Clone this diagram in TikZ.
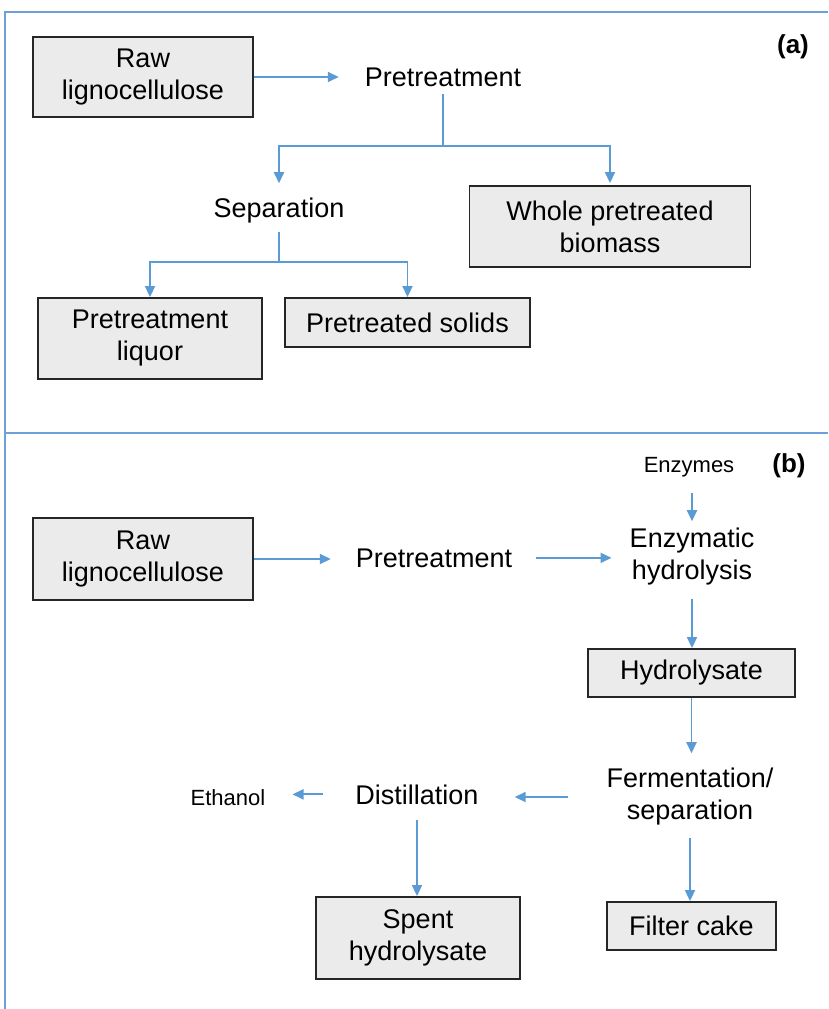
\documentclass[tikz,border=0pt]{standalone}
\usepackage{fontspec}
\setmainfont{Liberation Sans}
\usetikzlibrary{arrows.meta}
\definecolor{flowblue}{RGB}{91,155,213}
\definecolor{framblue}{RGB}{110,160,215}
\definecolor{boxfill}{RGB}{235,235,235}
\tikzset{
  x=1pt, y=-1pt,
  procbox/.style={draw=black!85, fill=boxfill, line width=1.9pt, inner sep=0pt,
    align=center, font=\fontsize{27}{32}\selectfont},
  plain/.style={inner sep=0pt, align=center, font=\fontsize{27}{32}\selectfont},
  small/.style={inner sep=0pt, font=\fontsize{22}{26}\selectfont},
  tag/.style={inner sep=0pt, font=\fontsize{26}{30}\selectfont\bfseries},
  flow/.style={draw=flowblue, line width=1.9pt, -{Triangle[length=11pt,width=10pt]}},
  frameline/.style={draw=framblue, line width=2pt}
}
\begin{document}
\begin{tikzpicture}
\useasboundingbox (0,0) rectangle (828,1009);
% frame
\coordinate (ftl) at (5,12);
\coordinate (ftr) at (828,12);
\coordinate (fbl) at (5,1009);
\coordinate (fdl) at (5,433);
\coordinate (fdr) at (828,433);
\draw[frameline] (fbl) -- (ftl) -- (ftr);
\draw[frameline] (fdl) -- (fdr);

% ---------- (a) ----------
\node[tag, anchor=base] (la) at (793,53) {(a)};
\node[procbox, minimum width=220pt, minimum height=80pt] (rawA) at (143,77) {Raw\\lignocellulose};
\node[plain, anchor=base] (ptA) at (443,86) {Pretreatment};
\node[plain, anchor=base] (sepA) at (279,217) {Separation};
\node[procbox, minimum width=281pt, minimum height=81pt] (wholeA) at (610,226.5) {Whole pretreated\\biomass};
\node[procbox, minimum width=224pt, minimum height=81pt] (liqA) at (150,338.5) {Pretreatment\\liquor};
\node[procbox, minimum width=245pt, minimum height=49pt] (solA) at (407.5,322.5) {Pretreated solids};

\coordinate (jA) at (443,146);
\coordinate (jS) at (279,262);

\draw[flow, shorten >=26pt] (rawA.east) -- (rawA.east -| ptA.west);
\draw[flow, shorten <=8pt, shorten >=14pt] (ptA.south) -- (jA) -| (sepA.north);
\draw[flow, shorten >=2pt] (jA) -| (wholeA.north);
\draw[flow, shorten <=9pt] (sepA.south) -- (jS) -| (liqA.north);
\draw[flow] (jS) -| (solA.north);

% ---------- (b) ----------
\node[tag, anchor=base] (lb) at (789,472) {(b)};
\node[small, anchor=base] (enzy) at (689,472) {Enzymes};
\node[procbox, minimum width=220pt, minimum height=82pt] (rawB) at (143,559) {Raw\\lignocellulose};
\node[plain, anchor=base] (ptB) at (434,567) {Pretreatment};
\node[plain] (ehB) at (692,557) {Enzymatic\\hydrolysis};
\node[procbox, minimum width=207pt, minimum height=48pt] (hydB) at (691.5,673) {Hydrolysate};
\node[plain] (ferB) at (690,797) {Fermentation/\\separation};
\node[plain, anchor=base] (disB) at (417,804) {Distillation};
\node[small, anchor=base] (ethB) at (228,805) {Ethanol};
\node[procbox, minimum width=204pt, minimum height=82pt] (spB) at (418,938) {Spent\\hydrolysate};
\node[procbox, minimum width=169pt, minimum height=48pt] (filB) at (691.5,926) {Filter cake};

\draw[flow, shorten <=16pt, shorten >=7pt] (enzy.south -| ehB.north) -- (ehB.north);
\draw[flow, shorten >=25pt] (rawB.east) -- (rawB.east -| ptB.west);
\draw[flow, shorten <=24pt, shorten >=18pt] (ptB.east) -- (ptB.east -| ehB.west);
\draw[flow, shorten <=13pt] (ehB.south) -- (ehB.south |- hydB.north);
\draw[flow, shorten >=15pt] (hydB.south) -- (hydB.south |- ferB.north);
\draw[flow, shorten <=39pt, shorten >=36pt] (ferB.west) -- (ferB.west -| disB.east);
\draw[flow, shorten <=32pt, shorten >=27pt] (disB.west) -- (disB.west -| ethB.east);
\draw[flow, shorten <=16pt] (disB.south) -- (disB.south |- spB.north);
\draw[flow, shorten <=12pt] (ferB.south) -- (ferB.south |- filB.north);
\end{tikzpicture}
\end{document}
